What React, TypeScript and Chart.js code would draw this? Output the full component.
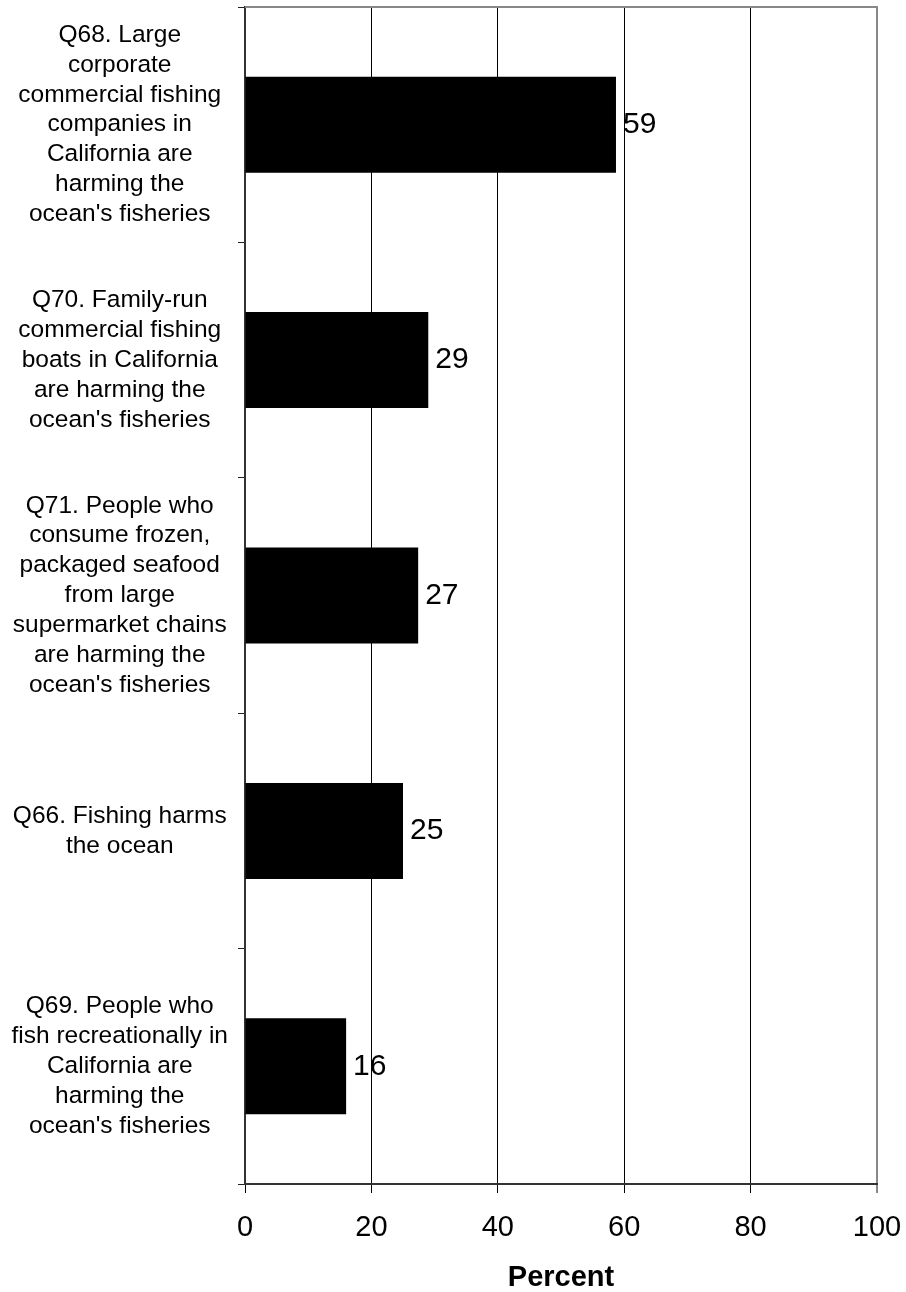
import React, { useEffect, useRef } from "react";
import { Chart, registerables } from "chart.js";

Chart.register(...registerables);

const categories: string[][] = [
  ["Q68. Large", "corporate", "commercial fishing", "companies in", "California are", "harming the", "ocean's fisheries"],
  ["Q70. Family-run", "commercial fishing", "boats in California", "are harming the", "ocean's fisheries"],
  ["Q71. People who", "consume frozen,", "packaged seafood", "from large", "supermarket chains", "are harming the", "ocean's fisheries"],
  ["Q66. Fishing harms", "the ocean"],
  ["Q69. People who", "fish recreationally in", "California are", "harming the", "ocean's fisheries"],
];
const values: number[] = [58.7, 29.0, 27.4, 25.0, 16.0];
const valueLabels: string[] = ["59", "29", "27", "25", "16"];
const xTickValues: number[] = [0, 20, 40, 60, 80, 100];
const axisTitle = "Percent";

const FONT = "'Liberation Sans', Arial, Helvetica, sans-serif";

const valueLabelPlugin = {
  id: "valueLabels",
  afterDatasetsDraw(chart: any) {
    const { ctx } = chart;
    const meta = chart.getDatasetMeta(0);
    ctx.save();
    ctx.font = `30px ${FONT}`;
    ctx.fillStyle = "#000";
    ctx.textAlign = "left";
    ctx.textBaseline = "middle";
    meta.data.forEach((bar: any, i: number) => {
      ctx.fillText(valueLabels[i], bar.x + 7, bar.y);
    });
    ctx.restore();
  },
};

const borderPlugin = {
  id: "topBorder",
  afterDraw(chart: any) {
    const { ctx, chartArea } = chart;
    ctx.save();
    ctx.strokeStyle = "#888";
    ctx.lineWidth = 2;
    ctx.beginPath();
    ctx.moveTo(chartArea.left, chartArea.top);
    ctx.lineTo(chartArea.right + 1, chartArea.top);
    ctx.stroke();
    ctx.restore();
  },
};

export default function App() {
  const ref = useRef<HTMLCanvasElement | null>(null);
  useEffect(() => {
    document.body.style.margin = "0";
    if (!ref.current) return;
    Chart.defaults.font.family = FONT;
    const chart = new Chart(ref.current, {
      type: "bar",
      data: {
        labels: categories as any,
        datasets: [
          {
            data: values,
            backgroundColor: "#000",
            borderWidth: 0,
            barPercentage: 0.408,
            categoryPercentage: 1,
          },
        ],
      },
      options: {
        indexAxis: "y",
        animation: false,
        responsive: false,
        maintainAspectRatio: false,
        layout: { padding: { top: 7, right: 29, left: 0, bottom: 0 } },
        plugins: {
          legend: { display: false },
          tooltip: { enabled: false },
        },
        scales: {
          x: {
            min: 0,
            max: 100,
            afterBuildTicks(scale: any) {
              scale.ticks = xTickValues.map((v) => ({ value: v }));
            },
            afterFit(scale: any) {
              scale.height = 108;
              scale.paddingLeft = 0;
              scale.paddingRight = 0;
            },
            ticks: {
              color: "#000",
              font: { size: 29, family: FONT },
              padding: 18,
            },
            grid: {
              color: (c: any) => (c.tick && c.tick.value === 100 ? "#888" : "#000"),
              lineWidth: (c: any) => (c.tick && c.tick.value === 100 ? 2 : 1),
              tickLength: 9,
            },
            border: { color: "#333", width: 2 },
            title: {
              display: true,
              text: axisTitle,
              color: "#000",
              font: { size: 29, weight: "bold", family: FONT, lineHeight: 1 },
              padding: 0,
            },
          },
          y: {
            afterFit(scale: any) {
              scale.width = 245;
              scale.paddingTop = 0;
              scale.paddingBottom = 0;
            },
            ticks: {
              color: "#000",
              font: { size: 24.5, family: FONT, lineHeight: 1.22 },
              crossAlign: "center",
              padding: 10,
            },
            grid: {
              drawOnChartArea: false,
              tickLength: 7,
              color: "#222",
              lineWidth: 1,
              offset: true,
            },
            border: { color: "#333", width: 2 },
          },
        },
      },
      plugins: [valueLabelPlugin, borderPlugin],
    } as any);
    return () => chart.destroy();
  }, []);
  return (
    <div style={{ width: 906, height: 1292 }}>
      <canvas ref={ref} width={906} height={1292} style={{ display: "block" }} />
    </div>
  );
}
